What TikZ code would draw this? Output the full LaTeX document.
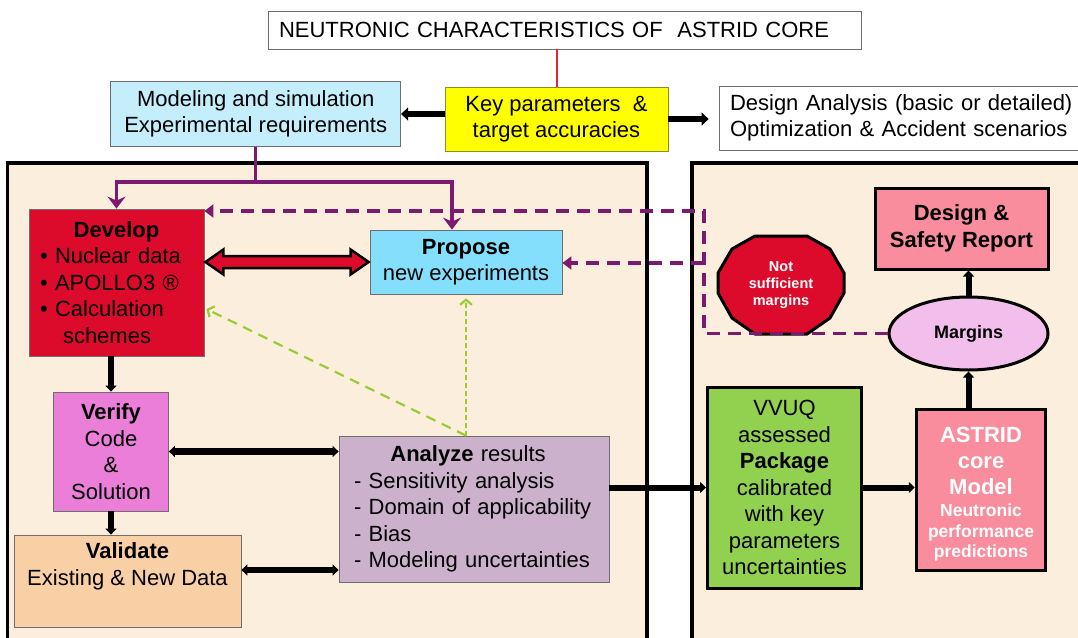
\documentclass[tikz,border=0pt]{standalone}
\usepackage{fontspec}
\setmainfont{Liberation Sans}
\usetikzlibrary{arrows.meta,shapes.geometric,calc}
\definecolor{panelc}{HTML}{FCEEDD}
\definecolor{modc}{HTML}{C4EEFB}
\definecolor{keyc}{HTML}{FFFF00}
\definecolor{keyb}{HTML}{8C8C2A}
\definecolor{devc}{HTML}{DC0A2B}
\definecolor{proc}{HTML}{83DFFB}
\definecolor{verc}{HTML}{EA7ED9}
\definecolor{valc}{HTML}{F9CFA5}
\definecolor{anac}{HTML}{CCB1CC}
\definecolor{vvc}{HTML}{92D050}
\definecolor{pinkc}{HTML}{F98D9D}
\definecolor{marc}{HTML}{F2BFEC}
\definecolor{purp}{HTML}{7B1A6E}
\definecolor{greenl}{HTML}{99CC33}
\definecolor{redl}{HTML}{E5233D}
\definecolor{thinb}{HTML}{6E6E6E}
\tikzset{
  base/.style={draw=thinb, line width=0.8pt, inner sep=0pt, align=center, font=\fontsize{22}{26.5}\selectfont},
  bbox/.style={base, draw=black, line width=3pt},
  panel/.style={draw=black, line width=3.5pt, fill=panelc},
  barrow/.style={draw=black, line width=6pt, -{Triangle[length=6pt,width=11pt]}},
  dbarrow/.style={draw=black, line width=6.5pt, {Triangle[length=6pt,width=11pt]}-{Triangle[length=6pt,width=11pt]}},
  karrow/.style={draw=black, line width=6pt, -{Triangle[length=7pt,width=13pt]}},
  psolid/.style={draw=purp, line width=3.5pt, -{Stealth[length=12pt,width=18pt,inset=4pt]}},
  pdash/.style={draw=purp, line width=3.5pt, dash pattern=on 13pt off 8pt, -{Triangle[length=9pt,width=13pt]}},
  gdash/.style={draw=greenl, line width=2.2pt, dash pattern=on 10pt off 7pt, -{Straight Barb[length=5pt,width=12pt]}},
  gdot/.style={draw=greenl, line width=2.2pt, dash pattern=on 5pt off 3pt, -{Straight Barb[length=5pt,width=12pt]}},
  redline/.style={draw=redl, line width=2pt}
}
\begin{document}
\begin{tikzpicture}[x=1pt,y=-1pt]
\useasboundingbox (0,0) rectangle (1078,637);
% panels
\draw[panel] (7.6,163) rectangle (647,660);
\draw[panel] (692,163) rectangle (1090,660);
% top nodes
\node[base, fill=white, minimum width=593.5pt, minimum height=38pt, text width=571.5pt, inner xsep=11pt, align=left] (title) at (564.75,30) {NEUTRONIC CHARACTERISTICS OF\ \ ASTRID CORE};
\node[base, draw=keyb, fill=keyc, minimum width=223pt, minimum height=64pt] (key) at (556.5,119) {Key parameters\ \ \&\\target accuracies};
\node[base, fill=modc, minimum width=290pt, minimum height=65pt] (model) at (255.7,114) {Modeling and simulation\\Experimental requirements};
\node[base, fill=white, minimum width=376pt, minimum height=64pt, text width=354pt, inner xsep=11pt, align=left] (da) at (907,118) {Design Analysis (basic or detailed)\\Optimization \& Accident scenarios};
% left panel nodes
\node[base, fill=devc, minimum width=175pt, minimum height=147pt, text width=153pt, align=left] (dev) at (116.5,282.5) {\makebox[153pt]{\textbf{Develop}}\\• Nuclear data\\• APOLLO3 ®\\• Calculation\\\hspace*{23pt}schemes};
\node[base, fill=proc, minimum width=192pt, minimum height=64pt] (pro) at (466,262) {\textbf{Propose}\\new experiments};
\node[base, fill=verc, minimum width=115pt, minimum height=119pt] (ver) at (111,451.5) {\textbf{Verify}\\Code\\\&\\Solution};
\node[base, fill=valc, minimum width=227pt, minimum height=92pt] (val) at (127.5,581) {\textbf{Validate}\\Existing \& New Data\\\strut};
\node[base, fill=anac, minimum width=270pt, minimum height=146pt, text width=240pt, align=left] (ana) at (474,509) {\makebox[228pt]{\textbf{Analyze} results}\\- Sensitivity analysis\\- Domain of applicability\\- Bias\\- Modeling uncertainties};
% right panel nodes
\node[bbox, fill=vvc, minimum width=154pt, minimum height=201pt] (vvuq) at (784.5,487.5) {VVUQ\\assessed\\\textbf{Package}\\calibrated\\with key\\parameters\\uncertainties};
\node[bbox, fill=pinkc, minimum width=129.5pt, minimum height=161pt, text=white, font=\bfseries\fontsize{22}{26}\selectfont] (astrid) at (981,489.5) {\rule{0pt}{24pt}ASTRID\\core\\Model\\[-4pt]{\fontsize{17.5}{21}\selectfont Neutronic}\\[-5pt]{\fontsize{17.5}{21}\selectfont performance}\\[-6pt]{\fontsize{17.5}{21}\selectfont predictions}};
\node[bbox, fill=pinkc, minimum width=173pt, minimum height=81pt, font=\bfseries\fontsize{22}{27}\selectfont] (dsr) at (961.5,228.5) {Design \&\\Safety Report};
\node[ellipse, draw=black, line width=3pt, fill=marc, minimum width=159pt, minimum height=73pt, inner sep=0pt, font=\bfseries\fontsize{18}{22}\selectfont] (mar) at (968.5,333.5) {Margins};
\coordinate (nsmc) at (781,285);
\draw[draw=black, line width=3pt, fill=devc, line join=miter, shift={(nsmc)}] (-26,-49) -- (26,-49) -- (49,-36) -- (63,-12) -- (63,8) -- (49,33) -- (26,49) -- (-26,49) -- (-49,33) -- (-63,8) -- (-63,-12) -- (-49,-36) -- cycle;
\node[inner sep=0pt, align=center, text=white, font=\bfseries\fontsize{14.5}{17}\selectfont] (nsm) at (nsmc) {Not\\sufficient\\margins};
% connectors
\draw[redline] (key.north) -- (key.north |- title.south);
\draw[karrow] (key.west |- model.east) -- (model.east);
\draw[karrow, shorten >=10pt] (key.east) -- (key.east -| da.west);
\coordinate (tj) at ($(model.south)+(0,35)$);
\draw[psolid] (model.south) -- (tj) -| (dev.north);
\draw[psolid] (tj) -| ([xshift=-14pt]pro.north);
\coordinate (dtop) at (704,211);
\coordinate (dmid) at (704,263);
\draw[pdash] (mar.west) -| (dtop) -- (dtop -| dev.east);
\draw[pdash] (dmid) -- (dmid -| pro.east);
\coordinate (gs) at ($(ana.north)+(-8,0)$);
\draw[gdash] (gs) -- ($(dev.east)+(2,26.5)$);
\draw[gdot] (gs) -- ($(gs |- pro.south)+(0,4)$);
\coordinate (ra) at (dev.east |- pro.west);
\draw[fill=devc, line width=2.5pt, line join=miter] ($(ra)+(1,0)$) -- ($(ra)+(19,-12.5)$) -- ($(ra)+(19,-6)$) -- ($(pro.west)+(-19,-6)$) -- ($(pro.west)+(-19,-12.5)$) -- ($(pro.west)+(-1,0)$) -- ($(pro.west)+(-19,12.5)$) -- ($(pro.west)+(-19,6)$) -- ($(ra)+(19,6)$) -- ($(ra)+(19,12.5)$) -- cycle;
\draw[barrow] (ver.north |- dev.south) -- (ver.north);
\draw[barrow] (ver.south) -- (ver.south |- val.north);
\draw[dbarrow] (ver.east) -- (ver.east -| ana.west);
\coordinate (v2) at ($(val.east)+(0,-11)$);
\draw[dbarrow] (v2) -- (v2 -| ana.west);
\draw[barrow] (ana.east |- vvuq.west) -- (vvuq.west);
\draw[barrow] (vvuq.east) -- (vvuq.east -| astrid.west);
\draw[barrow] (mar.south |- astrid.north) -- (mar.south);
\draw[barrow] (mar.north) -- (mar.north |- dsr.south);
\end{tikzpicture}
\end{document}
